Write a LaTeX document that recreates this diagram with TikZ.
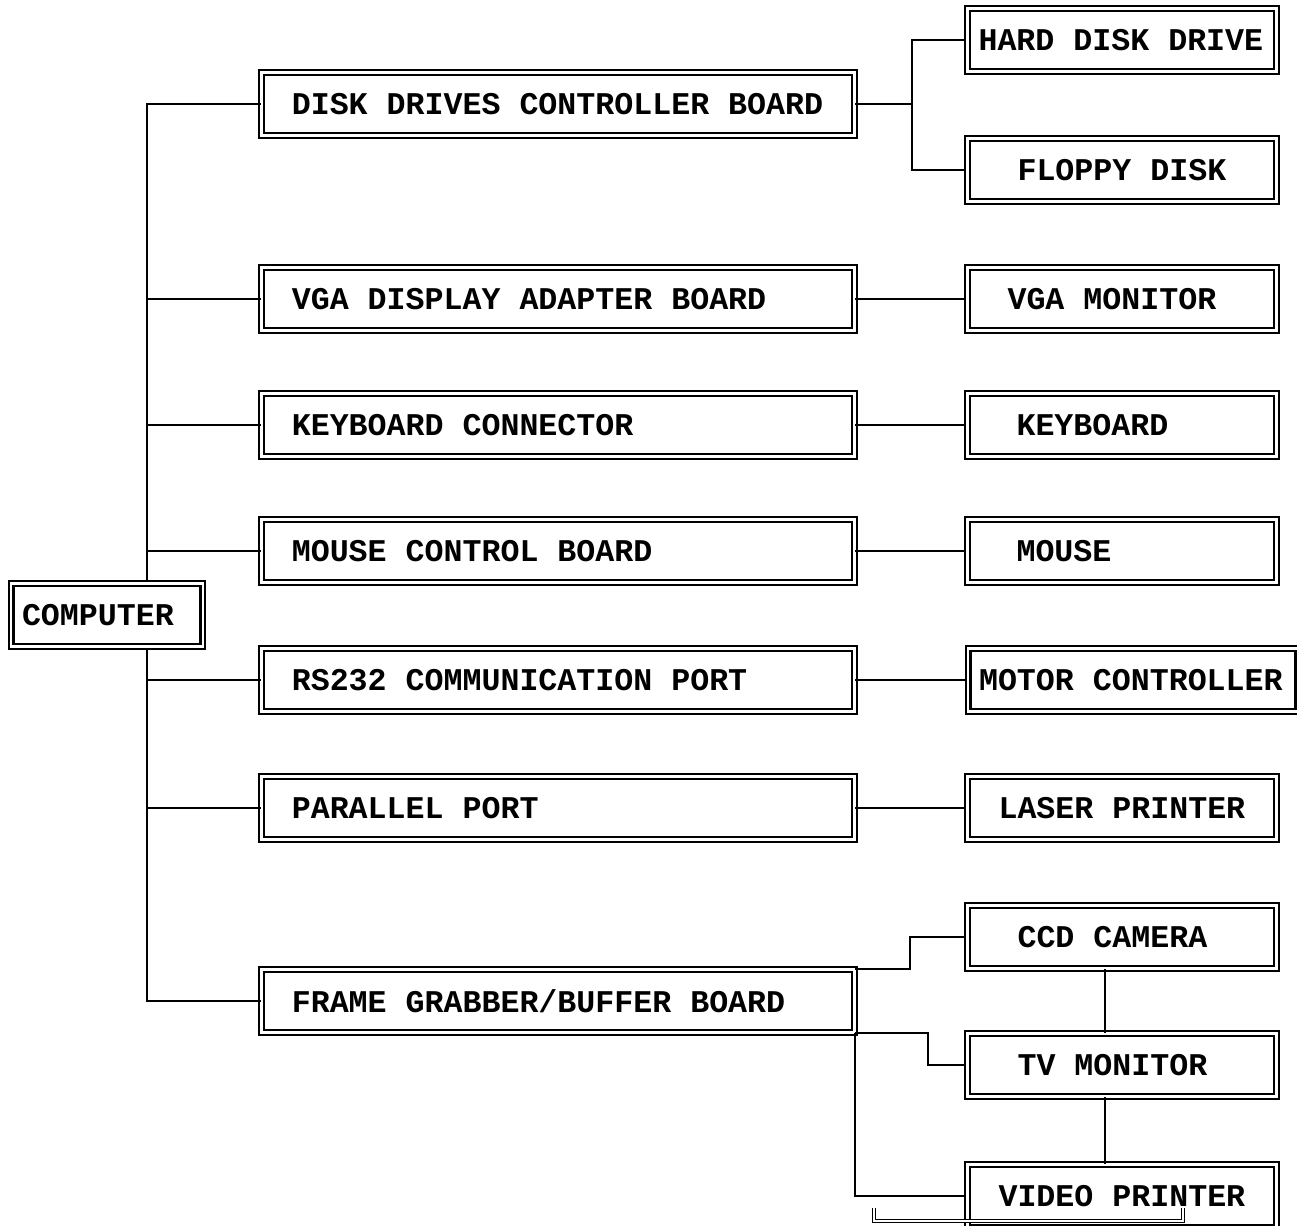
\documentclass[tikz,border=0pt]{standalone}
\usepackage{fontspec}
\setmonofont{Liberation Mono}
\usetikzlibrary{positioning, calc}

\tikzset{
  box/.style={draw, double, line width=1.2pt, double distance=1.6pt,
    font=\ttfamily\bfseries\fontsize{18}{20}\selectfont,
    align=flush left, minimum height=1.25cm},
  lbox/.style={box, inner xsep=0.6cm, text width=10.65cm},
  rbox/.style={box, inner xsep=0.22cm, text width=5.74cm},
  link/.style={line width=1.1pt}
}

\begin{document}
\begin{tikzpicture}[x=0.02cm, y=-0.02cm]

\useasboundingbox (0,0) rectangle (1297,1226);

% Computer
\node[box, inner xsep=0.22cm, text width=3.4cm, minimum height=1.27cm] (comp) at (107,615) {COMPUTER};

% --- Boards ---
\node[lbox] (ddc) at (558,104) {DISK DRIVES CONTROLLER BOARD};
\node[lbox] (vga) at (558,299) {VGA DISPLAY ADAPTER BOARD};
\node[lbox] (kbc) at (558,425) {KEYBOARD CONNECTOR};
\node[lbox] (mcb) at (558,551) {MOUSE CONTROL BOARD};
\node[lbox] (rs)  at (558,680) {RS232 COMMUNICATION PORT};
\node[lbox] (par) at (558,808) {PARALLEL PORT};
\node[lbox] (fgb) at (558,1001) {FRAME GRABBER/BUFFER BOARD};

% --- Devices ---
\node[rbox] (hdd)   at (1122,40)   {HARD DISK DRIVE};
\node[rbox] (fdd)   at (1122,170)  {\hspace*{0.78cm}FLOPPY DISK};
\node[rbox] (vgam)  at (1122,299)  {\hspace*{0.58cm}VGA MONITOR};
\node[rbox] (kbd)   at (1122,425)  {\hspace*{0.76cm}KEYBOARD};
\node[rbox] (mouse) at (1122,551)  {\hspace*{0.76cm}MOUSE};
\node[rbox, text width=6.16cm] (motor) at (1133,680) {MOTOR CONTROLLER};
\node[rbox] (laser) at (1122,808)  {\hspace*{0.4cm}LASER PRINTER};
\node[rbox] (ccd)   at (1122,937)  {\hspace*{0.78cm}CCD CAMERA};
\node[rbox] (tv)    at (1122,1065) {\hspace*{0.78cm}TV MONITOR};
\node[rbox] (vprn)  at (1122,1196) {\hspace*{0.4cm}VIDEO PRINTER};

% Trunk from the computer
\coordinate (trunk) at (147,0);
\draw[link] (comp.north -| trunk) |- (ddc.west);
\draw[link] (comp.south -| trunk) |- (fgb.west);
\foreach \b in {vga, kbc, mcb, rs, par}
  \draw[link] (\b.west -| trunk) -- (\b.west);

% Boards to devices
\coordinate (dj) at (912,104);
\draw[link] (ddc.east) -- (dj);
\draw[link] (hdd.west) -| (dj) |- (fdd.west);
\draw[link] (vga.east) -- (vgam.west);
\draw[link] (kbc.east) -- (kbd.west);
\draw[link] (mcb.east) -- (mouse.west);
\draw[link] (rs.east) -- (motor.west);
\draw[link] (par.east) -- (laser.west);

% Frame grabber outputs
\draw[link] (fgb.north east) -- ++(55,0) |- (ccd.west);
\draw[link] (fgb.south east) -- ++(73,0) |- (tv.west);
\draw[link] (fgb.south east) |- (vprn.west);
\coordinate (vbus) at (1105,0);
\draw[link] (ccd.south -| vbus) -- (tv.north -| vbus);
\draw[link] (tv.south -| vbus) -- (vprn.north -| vbus);

% Bracket below
\draw[link, double, line width=0.8pt, double distance=1pt] (874,1208) |- (1183,1221) -- (1183,1208);

\end{tikzpicture}
\end{document}
